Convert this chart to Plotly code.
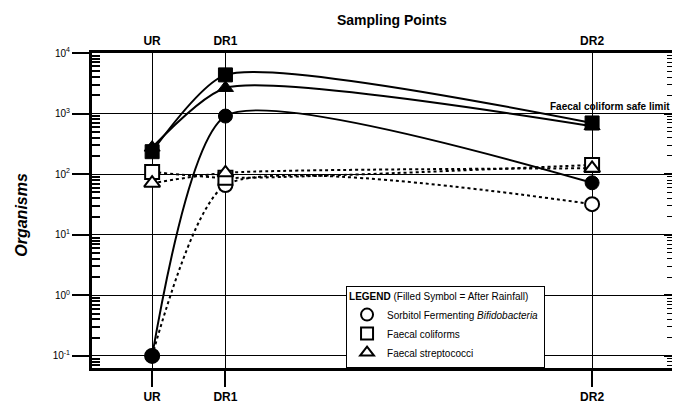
import plotly.graph_objects as go

# ---- data ----
sites = ["UR", "DR1", "DR2"]
site_pos = [0, 1, 6]

sfb_after = [0.1, 910, 72]      # Sorbitol Fermenting Bifidobacteria, after rainfall
sfb_before = [0.1, 66, 32]
fc_after = [235, 4350, 700]     # Faecal coliforms, after rainfall
fc_before = [109, 87, 142]
fs_after = [275, 2650, 620]     # Faecal streptococci, after rainfall
fs_before = [71, 105, 125]

series_names = ["Sorbitol Fermenting <i>Bifidobacteria</i>", "Faecal coliforms", "Faecal streptococci"]
series_symbols = ["circle", "square", "triangle-up"]

decade_vals = [0.1, 1, 10, 100, 1000, 10000]
decade_text = ["10<sup>-1</sup>", "10<sup>0</sup>", "10<sup>1</sup>", "10<sup>2</sup>", "10<sup>3</sup>", "10<sup>4</sup>"]
minor_vals = [k * d for d in [0.01, 0.1, 1, 10, 100, 1000] for k in range(2, 10)]

FONT = "Liberation Sans, Arial, sans-serif"
SMOOTH = 0.6

fig = go.Figure()

before = [sfb_before, fc_before, fs_before]
after = [sfb_after, fc_after, fs_after]

# dotted lines (before rainfall)
for vals in before:
    fig.add_trace(go.Scatter(x=site_pos, y=vals, mode="lines",
                             line=dict(color="black", width=2, dash="dot", shape="spline", smoothing=SMOOTH),
                             showlegend=False, hoverinfo="skip"))
# solid lines (after rainfall)
for vals in after:
    fig.add_trace(go.Scatter(x=site_pos, y=vals, mode="lines",
                             line=dict(color="black", width=2, shape="spline", smoothing=SMOOTH),
                             showlegend=False, hoverinfo="skip"))
# open markers
for vals, sym in zip(before, series_symbols):
    fig.add_trace(go.Scatter(x=site_pos, y=vals, mode="markers",
                             marker=dict(symbol=sym, size=14, color="white", line=dict(color="black", width=2)),
                             showlegend=False))
# filled markers
for vals, sym in zip(after, series_symbols):
    fig.add_trace(go.Scatter(x=site_pos, y=vals, mode="markers",
                             marker=dict(symbol=sym, size=14, color="black", line=dict(color="black", width=1)),
                             showlegend=False))
# legend entries
for name, sym in zip(series_names, series_symbols):
    fig.add_trace(go.Scatter(x=[None], y=[None], mode="markers", name=name,
                             marker=dict(symbol=sym + "-open", size=14, color="black", line=dict(width=1.5))))

# anchor trace for secondary axes
fig.add_trace(go.Scatter(x=[], y=[], xaxis="x2", yaxis="y2", showlegend=False, hoverinfo="skip"))

fig.update_layout(
    width=676, height=405,
    margin=dict(l=92, r=4, t=53, b=37, autoexpand=False),
    paper_bgcolor="white", plot_bgcolor="white",
    font=dict(family=FONT, color="black"),
    xaxis=dict(range=[-0.82, 7.09], tickmode="array", tickvals=site_pos, automargin=False,
               ticktext=["<b>%s</b>" % s for s in sites], tickfont=dict(size=12, family=FONT),
               ticks="outside", ticklen=16, tickwidth=2, tickcolor="black",
               showgrid=True, gridcolor="black", gridwidth=1, zeroline=False,
               showline=True, linecolor="black", linewidth=3),
    xaxis2=dict(overlaying="x", side="top", matches="x", range=[-0.82, 7.09], tickmode="array", tickvals=site_pos,
                automargin=False,
                ticktext=["<b>%s</b>" % s for s in sites], tickfont=dict(size=12, family=FONT),
                ticks="", showgrid=False, zeroline=False,
                showline=True, linecolor="black", linewidth=3),
    yaxis=dict(type="log", range=[-1.2, 4], tickmode="array", tickvals=decade_vals, ticktext=decade_text,
               automargin=False,
               tickfont=dict(size=10, family=FONT), ticks="outside", ticklen=17, tickwidth=2, tickcolor="black",
               showgrid=True, gridcolor="black", gridwidth=1, zeroline=False,
               showline=True, linecolor="black", linewidth=3,
               minor=dict(tickmode="array", tickvals=minor_vals, ticks="inside", ticklen=8, tickwidth=1.5,
                          tickcolor="black", showgrid=False)),
    yaxis2=dict(type="log", overlaying="y", side="right", range=[-1.2, 4], tickmode="array", tickvals=decade_vals,
                automargin=False,
                showticklabels=False, ticks="inside", ticklen=8, tickwidth=1.5, tickcolor="black",
                showgrid=False, zeroline=False, showline=False,
                minor=dict(tickmode="array", tickvals=minor_vals, ticks="inside", ticklen=5, tickwidth=1,
                           tickcolor="black", showgrid=False)),
    legend=dict(x=0.438, y=0.26, xanchor="left", yanchor="top",
                bgcolor="white", bordercolor="black", borderwidth=1,
                font=dict(size=10, family=FONT),
                title=dict(text="<b>LEGEND</b> (Filled Symbol = After Rainfall)", font=dict(size=10, family=FONT)),
                itemsizing="constant", tracegroupgap=0),
    showlegend=True,
)

fig.add_annotation(text="<b>Sampling Points</b>", xref="paper", yref="paper", x=0.517, y=1.105,
                   showarrow=False, font=dict(size=14, family=FONT), xanchor="center", yanchor="middle")
fig.add_annotation(text="<b><i>Organisms</i></b>", xref="paper", yref="paper", x=-0.121, y=0.486,
                   showarrow=False, textangle=-90, font=dict(size=16, family=FONT),
                   xanchor="center", yanchor="middle")
fig.add_annotation(text="<b>Faecal coliform safe limit</b>", xref="paper", yref="y", x=1.0, y=3,
                   showarrow=False, font=dict(size=10, family=FONT), xanchor="right", yanchor="bottom")

fig.write_html("out.html", config={"displayModeBar": False},
               post_script="document.body.style.margin='0';document.body.style.overflow='hidden';")
